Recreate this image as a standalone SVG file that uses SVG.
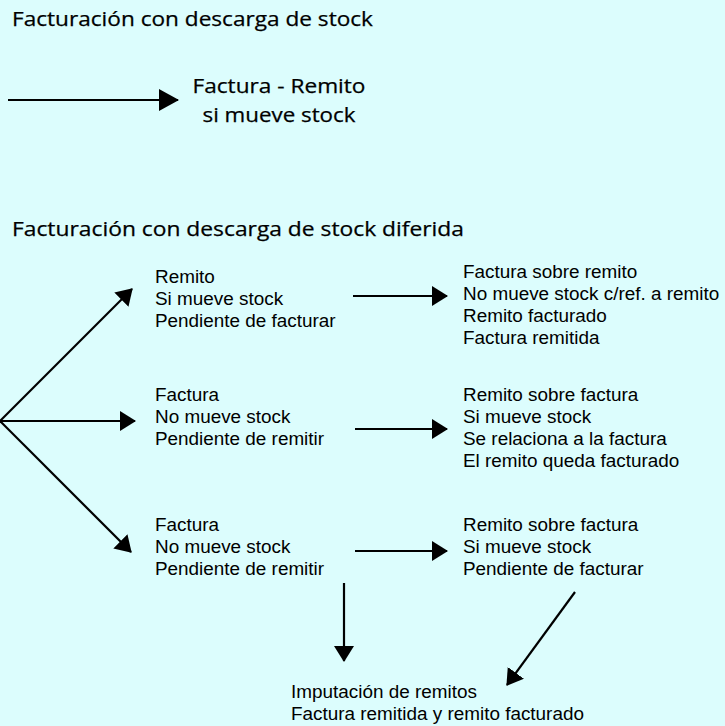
<svg xmlns="http://www.w3.org/2000/svg" width="725" height="726" viewBox="0 0 725 726">
<style>
.t{font-family:"Open Sans","Noto Sans",sans-serif;font-size:20px;fill:#000;stroke:#000;stroke-width:0.25}
.b{font-family:"Liberation Sans",Arial,sans-serif;font-size:18.9px;fill:#000}
.c{stroke:#000;stroke-width:2.2;fill:none}
</style>
<defs>
<marker id="ah" viewBox="0 0 16 20" refX="15" refY="10" markerWidth="16" markerHeight="20" markerUnits="userSpaceOnUse" orient="auto">
<path d="M0,0 L16,10 L0,20 z" fill="#000"/>
</marker>
<marker id="ahL" viewBox="0 0 20 22" refX="19" refY="11" markerWidth="20" markerHeight="22" markerUnits="userSpaceOnUse" orient="auto">
<path d="M0,0 L20,11 L0,22 z" fill="#000"/>
</marker>
</defs>
<rect width="725" height="726" fill="#dcfdfd"/>
<text class="t" x="12" y="26" textLength="361" lengthAdjust="spacingAndGlyphs">Facturación con descarga de stock</text>
<text class="t" x="12" y="236" textLength="452" lengthAdjust="spacingAndGlyphs">Facturación con descarga de stock diferida</text>
<g id="connectors">
<line class="c" x1="8" y1="100" x2="178" y2="100" marker-end="url(#ahL)"/>
<line class="c" x1="0" y1="421" x2="132" y2="289" marker-end="url(#ah)"/>
<line class="c" x1="0" y1="421" x2="135" y2="421" marker-end="url(#ah)"/>
<line class="c" x1="0" y1="421" x2="131" y2="552" marker-end="url(#ah)"/>
<line class="c" x1="353" y1="296" x2="447" y2="296" marker-end="url(#ah)"/>
<line class="c" x1="355" y1="429" x2="447" y2="429" marker-end="url(#ah)"/>
<line class="c" x1="355" y1="551" x2="447" y2="551" marker-end="url(#ah)"/>
<line class="c" x1="344" y1="583" x2="344" y2="661" marker-end="url(#ah)"/>
<line class="c" x1="575" y1="592" x2="507" y2="685" marker-end="url(#ah)"/>
</g>
<g id="n0">
<text class="t" x="279" y="93" text-anchor="middle" textLength="173" lengthAdjust="spacingAndGlyphs">Factura - Remito</text>
<text class="t" x="279" y="122" text-anchor="middle" textLength="153" lengthAdjust="spacingAndGlyphs">si mueve stock</text>
</g>
<g id="n1">
<text class="b" x="155" y="283">Remito</text>
<text class="b" x="155" y="305">Si mueve stock</text>
<text class="b" x="155" y="327">Pendiente de facturar</text>
</g>
<g id="n2">
<text class="b" x="155" y="401">Factura</text>
<text class="b" x="155" y="423">No mueve stock</text>
<text class="b" x="155" y="445">Pendiente de remitir</text>
</g>
<g id="n3">
<text class="b" x="155" y="531">Factura</text>
<text class="b" x="155" y="553">No mueve stock</text>
<text class="b" x="155" y="575">Pendiente de remitir</text>
</g>
<g id="n4">
<text class="b" x="463" y="278">Factura sobre remito</text>
<text class="b" x="463" y="300">No mueve stock c/ref. a remito</text>
<text class="b" x="463" y="322">Remito facturado</text>
<text class="b" x="463" y="344">Factura remitida</text>
</g>
<g id="n5">
<text class="b" x="463" y="401">Remito sobre factura</text>
<text class="b" x="463" y="423">Si mueve stock</text>
<text class="b" x="463" y="445">Se relaciona a la factura</text>
<text class="b" x="463" y="467">El remito queda facturado</text>
</g>
<g id="n6">
<text class="b" x="463" y="531">Remito sobre factura</text>
<text class="b" x="463" y="553">Si mueve stock</text>
<text class="b" x="463" y="575">Pendiente de facturar</text>
</g>
<g id="n7">
<text class="b" x="291" y="698">Imputación de remitos</text>
<text class="b" x="291" y="720">Factura remitida y remito facturado</text>
</g>
</svg>
